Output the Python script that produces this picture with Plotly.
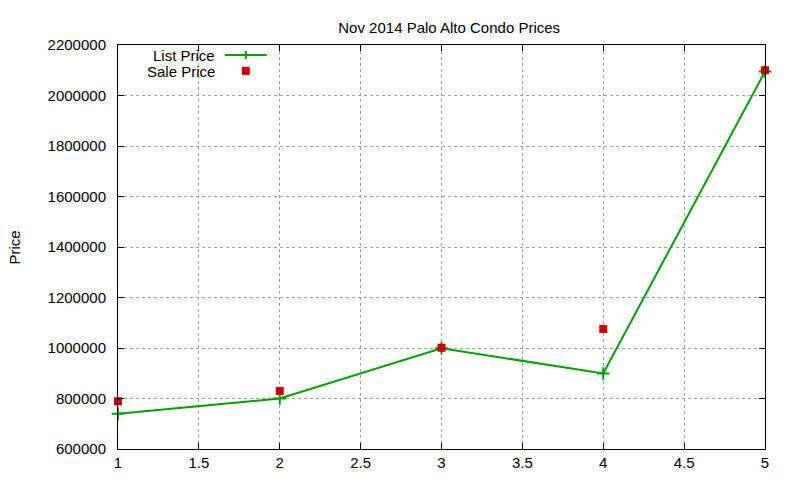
import plotly.graph_objects as go

# condo number vs. list / sale price, Palo Alto Nov 2014
units = [1, 2, 3, 4, 5]
list_price = [740000, 800000, 999000, 899000, 2095000]
sale_price = [789000, 830000, 1001000, 1075000, 2100000]

x_ticks = [1, 1.5, 2, 2.5, 3, 3.5, 4, 4.5, 5]
y_ticks = [600000, 800000, 1000000, 1200000, 1400000, 1600000, 1800000, 2000000, 2200000]

GREEN = "#00a000"
RED = "#cc0000"
FONT = "Liberation Sans, Arial, sans-serif"

fig = go.Figure()
fig.add_trace(go.Scatter(x=units, y=list_price, name="List Price", mode="lines+markers",
                         line=dict(color=GREEN, width=2),
                         marker=dict(symbol="cross-thin", size=9, line=dict(color=GREEN, width=2)),
                         cliponaxis=False))
fig.add_trace(go.Scatter(x=units, y=sale_price, name="Sale Price", mode="markers",
                         marker=dict(symbol="square", size=8, color=RED),
                         cliponaxis=False))

axis_style = dict(showline=True, linecolor="black", linewidth=1, mirror="ticks",
                  ticks="inside", ticklen=6, tickcolor="black", tickwidth=1,
                  showgrid=True, gridcolor="#a0a0a0", griddash="dot", gridwidth=1,
                  zeroline=False, tickfont=dict(size=15, color="black"))

fig.update_xaxes(range=[1, 5], tickvals=x_ticks, ticktext=[f"{v:g}" for v in x_ticks], **axis_style)
fig.update_yaxes(range=[600000, 2200000], tickvals=y_ticks, ticktext=[str(v) for v in y_ticks],
                 ticklabelstandoff=8, **axis_style)

# gnuplot-style key: text on the left, sample on the right
fig.add_annotation(xref="paper", yref="paper", x=0.153, y=0.975, text="List Price", height=16,
                   showarrow=False, xanchor="right", yanchor="middle", font=dict(size=15))
fig.add_annotation(xref="paper", yref="paper", x=0.153, y=0.936, text="Sale Price", height=16,
                   showarrow=False, xanchor="right", yanchor="middle", font=dict(size=15))
fig.add_shape(type="line", xref="paper", yref="paper", x0=0.165, x1=0.230, y0=0.975, y1=0.975,
              line=dict(color=GREEN, width=2))
fig.add_shape(type="line", xref="paper", yref="paper", x0=0.1975, x1=0.1975, y0=0.965, y1=0.985,
              line=dict(color=GREEN, width=2))
fig.add_shape(type="rect", xref="paper", yref="paper", x0=0.1913, x1=0.2037, y0=0.926, y1=0.946,
              line=dict(width=0), fillcolor=RED)

fig.add_annotation(xref="paper", yref="paper", x=-0.16, y=0.5, text="Price", textangle=-90,
                   showarrow=False, xanchor="center", yanchor="middle", font=dict(size=15))

# the page body adds an 8px offset, so margins are shifted to keep the plot box in place
fig.update_layout(
    width=800, height=480,
    margin=dict(l=110, r=43, t=37, b=39),
    paper_bgcolor="white", plot_bgcolor="white",
    font=dict(family=FONT, size=15, color="black"),
    title=dict(text="Nov 2014 Palo Alto Condo Prices", x=0.5515, xanchor="center",
               y=0.958, yanchor="middle", font=dict(size=15)),
    showlegend=False,
)

fig.write_html("out.html")
